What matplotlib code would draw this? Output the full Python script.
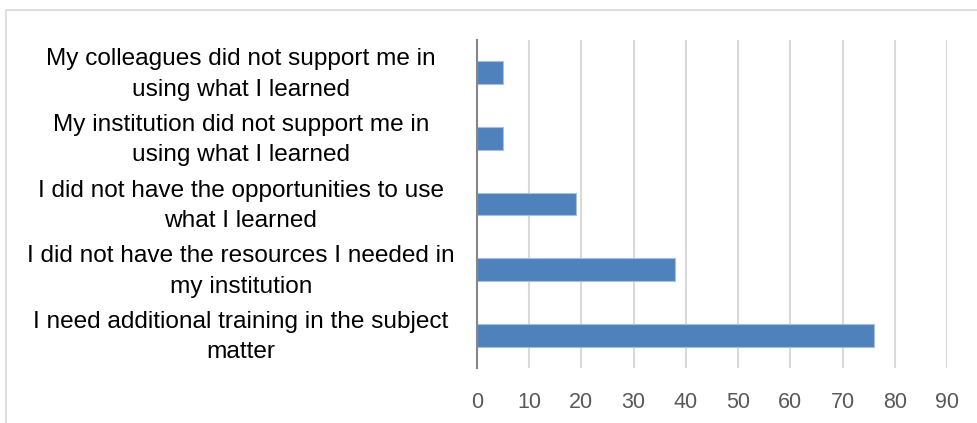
import matplotlib.pyplot as plt
import matplotlib.transforms as mtransforms
from matplotlib.patches import Rectangle

reasons = [
    'I need additional training in the subject\nmatter',
    'I did not have the resources I needed in\nmy institution',
    'I did not have the opportunities to use\nwhat I learned',
    'My institution did not support me in\nusing what I learned',
    'My colleagues did not support me in\nusing what I learned',
]
counts = [76, 38, 19, 5, 5]
ticks = [0, 10, 20, 30, 40, 50, 60, 70, 80, 90]

plt.rcParams['font.family'] = ['Liberation Sans', 'DejaVu Sans']

fig = plt.figure(figsize=(9.78, 4.23), dpi=100)
ax = fig.add_axes([0.4877, 0.13, 0.9683 - 0.4877, 0.9054 - 0.13])

ax.barh(range(len(reasons)), counts, height=0.35, color='#4f81bd',
        edgecolor='#a7bfde', linewidth=0.8, zorder=3)

ax.set_xlim(0, 90)
ax.set_ylim(-0.5, len(reasons) - 0.5)
ax.set_xticks(ticks)
ax.set_yticks(range(len(reasons)))
ax.set_yticklabels(reasons, ha='center', fontsize=17.6, color='#000000',
                   linespacing=1.5)
ax.tick_params(axis='y', length=0, pad=170)
ax.tick_params(axis='x', length=0, pad=17, labelsize=15.5, labelcolor='#595959')

# nudge the category labels up a little so they sit centred on the bars
shift = mtransforms.ScaledTranslation(0, 0.05, fig.dpi_scale_trans)
for lab in ax.get_yticklabels():
    lab.set_transform(lab.get_transform() + shift)

ax.grid(axis='x', color='#d9d9d9', linewidth=1.5, zorder=0)
for s in ['top', 'right', 'bottom']:
    ax.spines[s].set_visible(False)
ax.spines['left'].set_color('#868686')
ax.spines['left'].set_linewidth(1.5)
ax.spines['left'].set_zorder(4)

fig.patches.append(Rectangle((6 / 978, -0.1), 2, 1 - 10 / 423 + 0.1,
                             transform=fig.transFigure, fill=False,
                             edgecolor='#d9d9d9', linewidth=1.2))

fig.savefig('out.png', dpi=100)
